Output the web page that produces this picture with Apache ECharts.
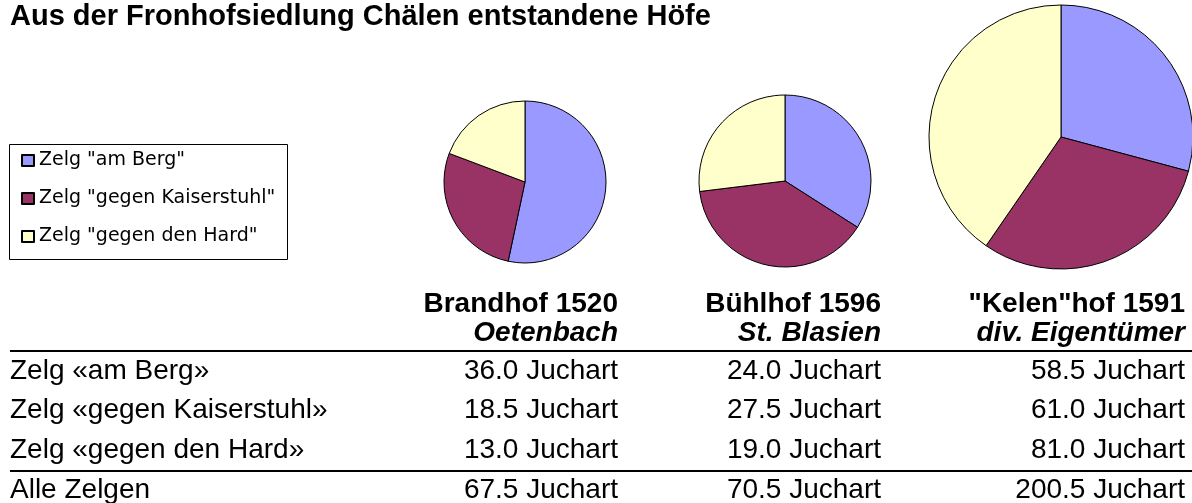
<!DOCTYPE html>
<html><head><meta charset="utf-8">
<script src="https://cdn.jsdelivr.net/npm/echarts@6/dist/echarts.min.js"></script>
<style>html,body{margin:0;padding:0;background:#fff}#c{width:1192px;height:503px}</style>
</head><body><div id="c"></div>
<script>
// ---- data ----
const chartTitle = 'Aus der Fronhofsiedlung Chälen entstandene Höfe';
const zelgNames = ['Zelg "am Berg"', 'Zelg "gegen Kaiserstuhl"', 'Zelg "gegen den Hard"'];
const rowLabels = ['Zelg «am Berg»', 'Zelg «gegen Kaiserstuhl»', 'Zelg «gegen den Hard»'];
const totalLabel = 'Alle Zelgen';
const farms = ['Brandhof 1520', 'Bühlhof 1596', '"Kelen"hof 1591'];
const owners = ['Oetenbach', 'St. Blasien', 'div. Eigentümer'];
const brandhof = [36.0, 18.5, 13.0];
const buehlhof = [24.0, 27.5, 19.0];
const kelenhof = [58.5, 61.0, 81.0];
const unit = 'Juchart';
const colors = ['#9999FF', '#993366', '#FFFFCC'];

// ---- layout ----
const farmValues = [brandhof, buehlhof, kelenhof];
const pieCenters = [[525, 182], [785, 181], [1061, 137]];
const pieRadii = [81, 86, 132];
const colRight = [618, 881, 1185];
const headerY = [304, 333];
const rowY = [371, 410.5, 450];
const totalY = 490;
const FONT = '"Liberation Sans", Arial, sans-serif';
const fs = 28;

const series = farmValues.map((vals, i) => ({
  type: 'pie',
  center: pieCenters[i],
  radius: pieRadii[i],
  startAngle: 90,
  clockwise: true,
  silent: true,
  animation: false,
  label: { show: false },
  labelLine: { show: false },
  itemStyle: { borderColor: '#000', borderWidth: 1 },
  data: zelgNames.map((n, k) => ({ name: n, value: vals[k], itemStyle: { color: colors[k] } }))
}));

const graphics = [];
// legend frame
graphics.push({ type: 'rect', shape: { x: 9.5, y: 144.5, width: 278, height: 115 },
  style: { fill: 'none', stroke: '#000', lineWidth: 1 }, z: 1 });
// table rules
[351, 471].forEach(y => graphics.push({ type: 'rect', shape: { x: 10, y: y - 1, width: 1182, height: 2 },
  style: { fill: '#000' } }));
function txt(text, x, y, align, weight, italic) {
  graphics.push({ type: 'text', style: { text, x, y, align, verticalAlign: 'middle', fill: '#000',
    font: (italic ? 'italic ' : '') + (weight || 'normal') + ' ' + fs + 'px ' + FONT } });
}
const fmt = v => v.toFixed(1) + ' ' + unit;
farms.forEach((f, j) => {
  txt(f, colRight[j], headerY[0], 'right', 'bold');
  txt(owners[j], colRight[j], headerY[1], 'right', 'bold', true);
  farmValues[j].forEach((v, k) => txt(fmt(v), colRight[j], rowY[k], 'right'));
  txt(fmt(farmValues[j].reduce((a, b) => a + b, 0)), colRight[j], totalY, 'right');
});
rowLabels.forEach((l, k) => txt(l, 10, rowY[k], 'left'));
txt(totalLabel, 10, totalY, 'left');

const chart = echarts.init(document.getElementById('c'), null, { renderer: 'canvas' });
chart.setOption({
  backgroundColor: '#fff',
  animation: false,
  title: { text: chartTitle, left: 10, top: 2, padding: 0,
    textStyle: { fontFamily: FONT, fontWeight: 'bold', fontSize: 29, color: '#000' } },
  legend: {
    orient: 'vertical', left: 21, top: 151, padding: 0,
    itemWidth: 12, itemHeight: 11, itemGap: 19, icon: 'rect',
    data: zelgNames,
    textStyle: { fontFamily: '"DejaVu Sans", sans-serif', fontSize: 19, lineHeight: 19, color: '#000' },
    selectedMode: false
  },
  series,
  graphic: graphics
});
</script></body></html>
